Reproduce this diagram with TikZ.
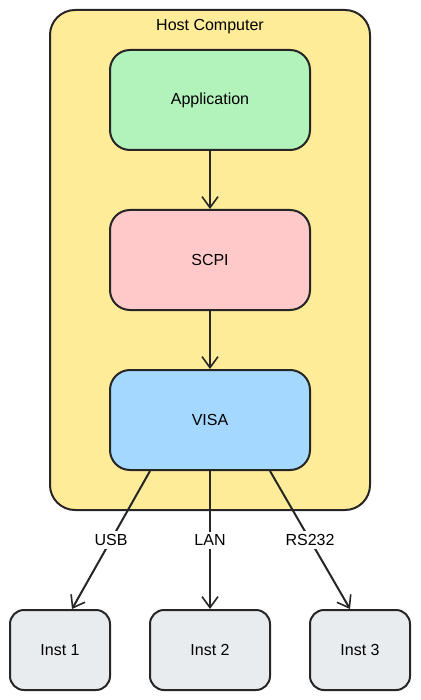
\documentclass[tikz,border=0pt]{standalone}
\usepackage{fontspec}
\setmainfont{Liberation Sans}
\usetikzlibrary{arrows.meta}

\begin{document}
\begin{tikzpicture}[x=1pt,y=-1pt,line width=2pt,
  box/.style={draw=black!85,rounded corners=20pt,minimum width=200pt,minimum height=100pt,font=\fontsize{16}{19}\selectfont},
  inst/.style={draw=black!85,fill=instgray,rounded corners=14pt,minimum height=80pt,font=\fontsize{16}{19}\selectfont},
  arr/.style={draw=black!85,-{Straight Barb[length=11pt,width=16pt,line width=1.6pt]}},
  lbl/.style={fill=white,inner sep=3pt,font=\fontsize{16}{19}\selectfont}]
\definecolor{hostyellow}{HTML}{FFEC99}
\definecolor{appgreen}{HTML}{B2F2BB}
\definecolor{scpipink}{HTML}{FFC9C9}
\definecolor{visablue}{HTML}{A5D8FF}
\definecolor{instgray}{HTML}{E9ECEF}
\useasboundingbox (0,0) rectangle (420,700);
% host
\node[draw=black!85,fill=hostyellow,rounded corners=25pt,minimum width=320pt,minimum height=500pt] (host) at (210,260) {};
\node[font=\fontsize{16}{19}\selectfont] (title) at (210,27) {Host Computer};
% software stack
\node[box,fill=appgreen] (app) at (210,100) {Application};
\node[box,fill=scpipink] (scpi) at (210,260) {SCPI};
\node[box,fill=visablue] (visa) at (210,420) {VISA};
\draw[arr] (app) -- (scpi);
\draw[arr] (scpi) -- (visa);
% instruments
\node[inst,minimum width=100pt] (inst1) at (60,650) {Inst 1};
\node[inst,minimum width=120pt] (inst2) at (210,650) {Inst 2};
\node[inst,minimum width=100pt] (inst3) at (360,650) {Inst 3};
\draw[arr] ([xshift=-60pt]visa.south) -- node[lbl] {USB} ([xshift=12pt]inst1.north);
\draw[arr] (visa.south) -- node[lbl] {LAN} (inst2.north);
\draw[arr] ([xshift=60pt]visa.south) -- node[lbl] {RS232} ([xshift=-10pt]inst3.north);
\end{tikzpicture}
\end{document}
